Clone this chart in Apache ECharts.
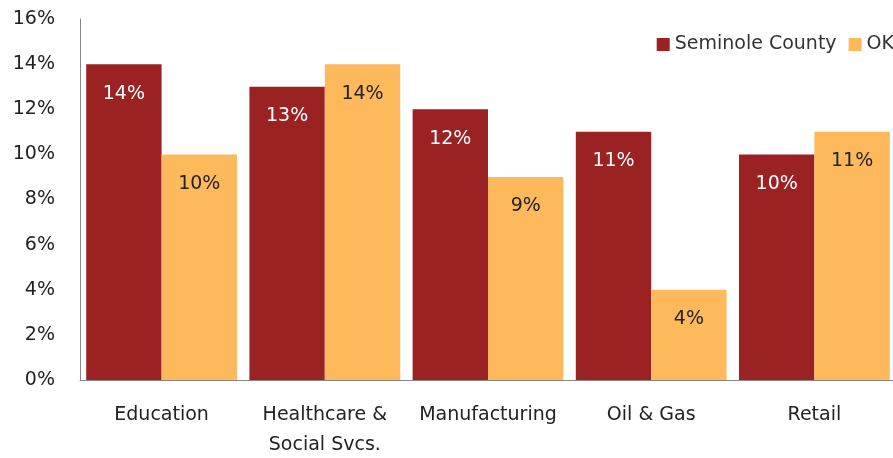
<!DOCTYPE html>
<html><head><meta charset="utf-8">
<script src="https://cdn.jsdelivr.net/npm/echarts@6/dist/echarts.min.js"></script>
<style>html,body{margin:0;padding:0;background:#fff}#c{width:893px;height:458px}</style>
</head><body><div id="c"></div>
<script>
const categories = ['Education', 'Healthcare &\nSocial Svcs.', 'Manufacturing', 'Oil & Gas', 'Retail'];
const seminole = [14, 13, 12, 11, 10];
const ok = [10, 14, 9, 4, 11];
const yTicks = [0, 2, 4, 6, 8, 10, 12, 14, 16];
const font = '"DejaVu Sans", sans-serif';
const fs = 19;
const chart = echarts.init(document.getElementById('c'));
chart.setOption({
  animation: false,
  textStyle: { fontFamily: font },
  legend: {
    right: -6, top: 30, itemWidth: 13, itemHeight: 13, itemGap: 12, icon: 'rect',
    textStyle: { fontSize: fs, color: '#333', fontFamily: font },
    data: ['Seminole County', 'OK']
  },
  grid: { left: 80, right: -3, top: 19, bottom: 78, containLabel: false, outerBoundsMode: 'none' },
  xAxis: {
    type: 'category', data: categories,
    axisLine: { lineStyle: { color: '#888' } },
    axisTick: { show: false },
    axisLabel: { interval: 0, color: '#222', fontSize: fs, margin: 20, lineHeight: 30, fontFamily: font }
  },
  yAxis: {
    type: 'value', min: yTicks[0], max: yTicks[yTicks.length - 1], interval: 2,
    axisLine: { show: true, lineStyle: { color: '#888' } },
    axisTick: { show: false },
    splitLine: { show: false },
    axisLabel: { color: '#222', fontSize: fs, margin: 25, formatter: '{value}%', fontFamily: font }
  },
  series: [
    { name: 'Seminole County', type: 'bar', data: seminole, barGap: '0%', barCategoryGap: '7.6%',
      itemStyle: { color: '#9B2222' },
      label: { show: true, position: 'insideTop', distance: 20, color: '#fff', fontSize: fs, formatter: '{c}%', fontFamily: font } },
    { name: 'OK', type: 'bar', data: ok, barGap: '0%', barCategoryGap: '7.6%',
      itemStyle: { color: '#FDB95C' },
      label: { show: true, position: 'insideTop', distance: 20, color: '#222', fontSize: fs, formatter: '{c}%', fontFamily: font } }
  ]
});
</script></body></html>
